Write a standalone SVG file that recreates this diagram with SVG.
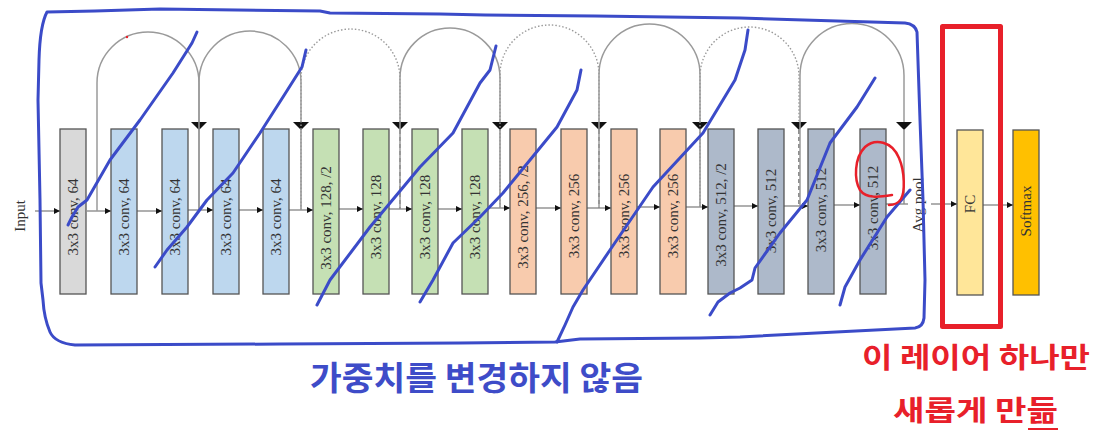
<svg xmlns="http://www.w3.org/2000/svg" width="1120" height="438" viewBox="0 0 1120 438">
<defs>
<marker id="ah" markerUnits="userSpaceOnUse" markerWidth="7" markerHeight="7" refX="6" refY="3" orient="auto"><path d="M0,0 L6,3 L0,6 z" fill="#111"/></marker>
<style>
.box{stroke:#555;stroke-width:1.3}
.g{fill:#d9d9d9}.b{fill:#bdd7ee}.gr{fill:#c5e0b4}.o{fill:#f8cbad}.s{fill:#adb9ca}.fc{fill:#ffe699}.sm{fill:#ffc000}
.lbl{font-family:"Liberation Serif","Times New Roman",serif;font-size:15px;fill:#333;text-anchor:middle;dominant-baseline:central}
.main{stroke:#7a7a7a;stroke-width:1.2;fill:none}
.arc{stroke:#9a9a9a;stroke-width:1.5;fill:none}
.dot{stroke:#9a9a9a;stroke-width:1.4;fill:none;stroke-dasharray:1.5 2}
.down{stroke:#8a8a8a;stroke-width:1.4;fill:none}
.dash{stroke:#555;stroke-width:1.3;fill:none;stroke-dasharray:4 3}
.tri{fill:#111}
.pen{stroke:#3b4bc8;stroke-width:3;fill:none;stroke-linecap:round;stroke-linejoin:round}
.red{stroke:#e8202a;fill:none;stroke-linecap:round;stroke-linejoin:round}
.kb{font-family:"Noto Sans CJK KR","Noto Sans",sans-serif;font-weight:700;fill:#3e4cc8}
.kr{font-family:"Noto Sans CJK KR","Noto Sans",sans-serif;font-weight:700;fill:#e8202a}
</style>
</defs>

<g id="connectors">
<line class="main" x1="35" y1="211" x2="60" y2="211" marker-end="url(#ah)"/>
<line class="main" x1="87" y1="211" x2="111" y2="211" marker-end="url(#ah)"/>
<line class="main" x1="137" y1="211" x2="162" y2="211" marker-end="url(#ah)"/>
<line class="main" x1="188" y1="210" x2="213" y2="210" marker-end="url(#ah)"/>
<line class="main" x1="239" y1="210" x2="263" y2="210" marker-end="url(#ah)"/>
<line class="main" x1="289" y1="210" x2="313" y2="210" marker-end="url(#ah)"/>
<line class="main" x1="339" y1="209" x2="363" y2="209" marker-end="url(#ah)"/>
<line class="main" x1="389" y1="209" x2="412" y2="209" marker-end="url(#ah)"/>
<line class="main" x1="438" y1="209" x2="462" y2="209" marker-end="url(#ah)"/>
<line class="main" x1="488" y1="208" x2="510" y2="208" marker-end="url(#ah)"/>
<line class="main" x1="536" y1="208" x2="561" y2="208" marker-end="url(#ah)"/>
<line class="main" x1="587" y1="208" x2="611" y2="208" marker-end="url(#ah)"/>
<line class="main" x1="637" y1="207" x2="660" y2="207" marker-end="url(#ah)"/>
<line class="main" x1="686" y1="207" x2="708" y2="207" marker-end="url(#ah)"/>
<line class="main" x1="734" y1="206" x2="758" y2="206" marker-end="url(#ah)"/>
<line class="main" x1="784" y1="206" x2="808" y2="206" marker-end="url(#ah)"/>
<line class="main" x1="834" y1="205" x2="860" y2="205" marker-end="url(#ah)"/>
<line class="main" x1="886" y1="204" x2="908" y2="204"/>
<line class="main" x1="931" y1="204" x2="957" y2="204" marker-end="url(#ah)"/>
<line class="main" x1="983" y1="205" x2="1013" y2="205" marker-end="url(#ah)"/>
<path class="arc" d="M97,211 V83 A51,51 0 0 1 199,83 V122"/>
<path class="down" d="M199,130 V210"/>
<polygon class="tri" points="191,122 207,122 199,130"/>
<path class="arc" d="M199,210 V82 A51,51 0 0 1 301,82 V122"/>
<path class="down" d="M301,130 V210"/>
<polygon class="tri" points="293,122 309,122 301,130"/>
<path class="dot" d="M301,210 V78.5 A49.5,49.5 0 0 1 400,78.5 V122"/>
<path class="dash" d="M400,130 V209"/>
<polygon class="tri" points="392,122 408,122 400,130"/>
<path class="arc" d="M400,209 V78 A50,50 0 0 1 500,78 V122"/>
<path class="down" d="M500,130 V208"/>
<polygon class="tri" points="492,122 508,122 500,130"/>
<path class="dot" d="M500,208 V74.5 A49.5,49.5 0 0 1 599,74.5 V122"/>
<path class="dash" d="M599,130 V208"/>
<polygon class="tri" points="591,122 607,122 599,130"/>
<path class="arc" d="M599,208 V74.5 A50.5,50.5 0 0 1 700,74.5 V122"/>
<path class="down" d="M700,130 V207"/>
<polygon class="tri" points="692,122 708,122 700,130"/>
<path class="dot" d="M700,207 V76.5 A49.5,49.5 0 0 1 799,76.5 V122"/>
<path class="dash" d="M799,130 V206"/>
<polygon class="tri" points="791,122 807,122 799,130"/>
<path class="arc" d="M800,206 V75.5 A52,52 0 0 1 904,75.5 V122"/>
<path class="down" d="M904,130 V204"/>
<polygon class="tri" points="896,122 912,122 904,130"/>
</g>

<text class="lbl" transform="translate(20,216) rotate(-90)" font-size="13">Input</text>
<text class="lbl" transform="translate(918,205) rotate(-90)">Avg pool</text>

<g id="n1"><rect class="box g" x="60" y="129" width="26" height="165"/><text class="lbl" transform="translate(73,217) rotate(-90)">3x3 conv, 64</text></g>
<g id="n2"><rect class="box b" x="111" y="129" width="26" height="165"/><text class="lbl" transform="translate(124,217) rotate(-90)">3x3 conv, 64</text></g>
<g id="n3"><rect class="box b" x="162" y="129" width="26" height="165"/><text class="lbl" transform="translate(175,217) rotate(-90)">3x3 conv, 64</text></g>
<g id="n4"><rect class="box b" x="213" y="129" width="26" height="165"/><text class="lbl" transform="translate(226,217) rotate(-90)">3x3 conv, 64</text></g>
<g id="n5"><rect class="box b" x="263" y="129" width="26" height="165"/><text class="lbl" transform="translate(276,217) rotate(-90)">3x3 conv, 64</text></g>
<g id="n6"><rect class="box gr" x="313" y="129" width="26" height="165"/><text class="lbl" transform="translate(326,218) rotate(-90)">3x3 conv, 128, /2</text></g>
<g id="n7"><rect class="box gr" x="363" y="129" width="26" height="165"/><text class="lbl" transform="translate(376,217) rotate(-90)">3x3 conv, 128</text></g>
<g id="n8"><rect class="box gr" x="412" y="129" width="26" height="165"/><text class="lbl" transform="translate(425,217) rotate(-90)">3x3 conv, 128</text></g>
<g id="n9"><rect class="box gr" x="462" y="129" width="26" height="165"/><text class="lbl" transform="translate(475,217) rotate(-90)">3x3 conv, 128</text></g>
<g id="n10"><rect class="box o" x="510" y="129" width="26" height="165"/><text class="lbl" transform="translate(523,217) rotate(-90)">3x3 conv, 256, /2</text></g>
<g id="n11"><rect class="box o" x="561" y="129" width="26" height="165"/><text class="lbl" transform="translate(574,216) rotate(-90)">3x3 conv, 256</text></g>
<g id="n12"><rect class="box o" x="611" y="129" width="26" height="165"/><text class="lbl" transform="translate(624,216) rotate(-90)">3x3 conv, 256</text></g>
<g id="n13"><rect class="box o" x="660" y="129" width="26" height="165"/><text class="lbl" transform="translate(673,216) rotate(-90)">3x3 conv, 256</text></g>
<g id="n14"><rect class="box s" x="708" y="129" width="26" height="165"/><text class="lbl" transform="translate(721,215) rotate(-90)">3x3 conv, 512, /2</text></g>
<g id="n15"><rect class="box s" x="758" y="129" width="26" height="165"/><text class="lbl" transform="translate(771,211) rotate(-90)">3x3 conv, 512</text></g>
<g id="n16"><rect class="box s" x="808" y="129" width="26" height="165"/><text class="lbl" transform="translate(821,210) rotate(-90)">3x3 conv, 512</text></g>
<g id="n17"><rect class="box s" x="860" y="129" width="26" height="165"/><text class="lbl" transform="translate(873,208) rotate(-90)">3x3 conv, 512</text></g>
<g id="fc"><rect class="box fc" x="957" y="130" width="26" height="165"/><text class="lbl" transform="translate(970,204) rotate(-90)">FC</text></g>
<g id="softmax"><rect class="box sm" x="1013" y="130" width="26" height="165"/><text class="lbl" transform="translate(1026,211) rotate(-90)">Softmax</text></g>

<g id="annotations">
<path class="pen" d="M47,12 L95,11 L160,9 L320,11 L330,13 L440,14 L485,15 L595,16 L740,18 L905,23 Q915,24 917,32 L920,120 L923,200 L925,280 L924,318 Q923,327 915,328 L740,337 L700,338 L580,339 L555,342 L460,343 L280,344 L75,345 Q55,343 50,332 Q44,318 43,300 L41,283 L40,200 L38,100 L39,60 Q40,25 47,12 Z"/>
<polyline class="pen" points="197,32 192,43 173,73 140,120 110,160 87,200 78,207 72,217 68,225"/>
<polyline class="pen" points="306,50 302,67 283,97 260,133 233,173 207,200 187,227 167,250 155,267"/>
<polyline class="pen" points="496,46 490,70 480,83 453,133 420,167 370,227 330,280 317,305"/>
<polyline class="pen" points="581,70 577,90 557,127 530,160 503,193 480,217 453,243 433,280 420,302"/>
<polyline class="pen" points="748,30 745,50 735,80 703,133 653,187 610,250 583,290 573,307 565,325 557,342"/>
<polyline class="pen" points="875,78 857,107 830,143 807,200 780,233 755,268 752,280 740,288 730,293 718,302 710,315"/>
<polyline class="pen" points="910,190 887,217 860,260 845,287 840,305"/>
<circle cx="127" cy="37" r="1.2" fill="#e8202a"/>
<path class="red" stroke-width="2.5" d="M892,195 C880,197 866,199 860,190 C854,180 854,158 865,147 C875,138 892,141 899,158 C905,172 905,192 901,199 C898,204 894,205 889,205"/>
<rect class="red" stroke-width="5" x="942.5" y="26.5" width="58" height="300"/>
<text class="kb" x="310" y="390" font-size="33" textLength="333" lengthAdjust="spacingAndGlyphs">가중치를 변경하지 않음</text>
<text class="kr" x="862" y="368" font-size="28" textLength="228" lengthAdjust="spacingAndGlyphs">이 레이어 하나만</text>
<text class="kr" x="893" y="421" font-size="28" textLength="165" lengthAdjust="spacingAndGlyphs">새롭게 만듦</text>
<line x1="1028" y1="429" x2="1058" y2="429" stroke="#e8202a" stroke-width="2"/>
</g>
</svg>
